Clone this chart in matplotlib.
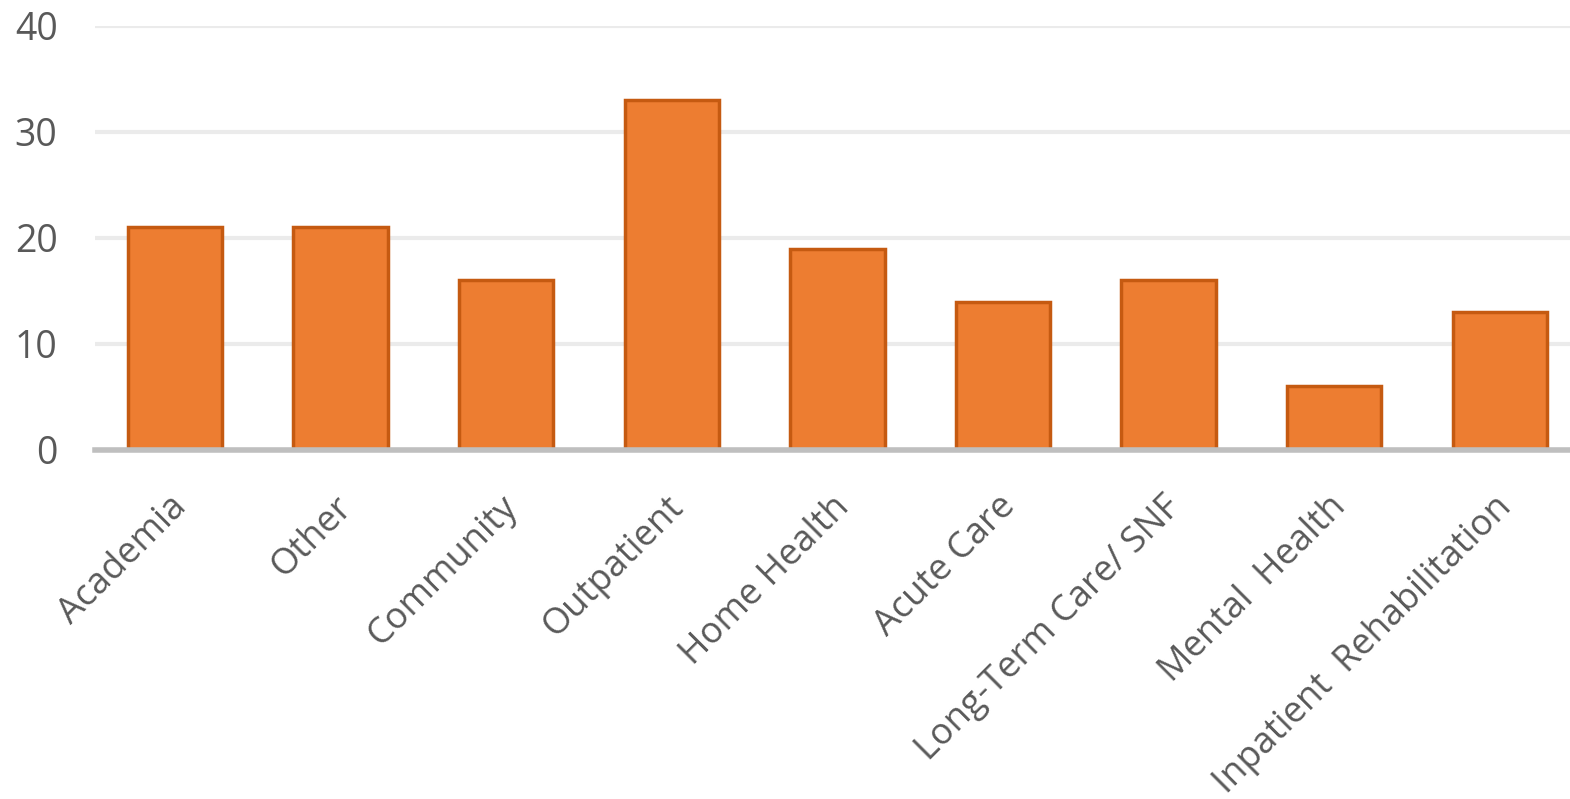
import matplotlib.pyplot as plt
import matplotlib.transforms as mtransforms
import numpy as np

categories = ["Academia", "Other", "Community", "Outpatient", "Home Health",
              "Acute Care", "Long-Term Care/ SNF", "Mental  Health",
              "Inpatient  Rehabilitation"]
counts = [21, 21, 16, 33, 19, 14, 16, 6, 13]
y_ticks = [0, 10, 20, 30, 40]

plt.rcParams['font.family'] = ['Open Sans', 'DejaVu Sans']

fig = plt.figure(figsize=(15.7, 7.99), dpi=100)
ax = fig.add_axes([95 / 1570, 349 / 799, 1475 / 1570, 424 / 799])

x = np.arange(len(categories))
ax.bar(x, counts, width=0.57, color='#ED7D31', edgecolor='#C55A11',
       linewidth=2.5, zorder=3)

ax.set_xlim(-0.483, 8.424)
ax.set_ylim(0, 40)
ax.set_yticks(y_ticks)
ax.yaxis.grid(True, color='#EBEBEB', linewidth=3, zorder=0)
ax.set_axisbelow(True)

for side in ['top', 'right', 'left']:
    ax.spines[side].set_visible(False)
ax.spines['bottom'].set_color('#BFBFBF')
ax.spines['bottom'].set_linewidth(4)
ax.spines['bottom'].set_zorder(4)

ax.tick_params(axis='both', length=0, labelcolor='#595959')
ax.tick_params(axis='y', labelsize=27, pad=27)
ax.set_xticks(x)
ax.set_xticklabels(categories, rotation=45, ha='right', rotation_mode='anchor')
ax.tick_params(axis='x', labelsize=26, pad=28)

# nudge the slanted labels a little to the left
shift = mtransforms.ScaledTranslation(-6 / 100, 0, fig.dpi_scale_trans)
for lab in ax.get_xticklabels():
    lab.set_transform(lab.get_transform() + shift)

fig.savefig('out.png', dpi=100)
